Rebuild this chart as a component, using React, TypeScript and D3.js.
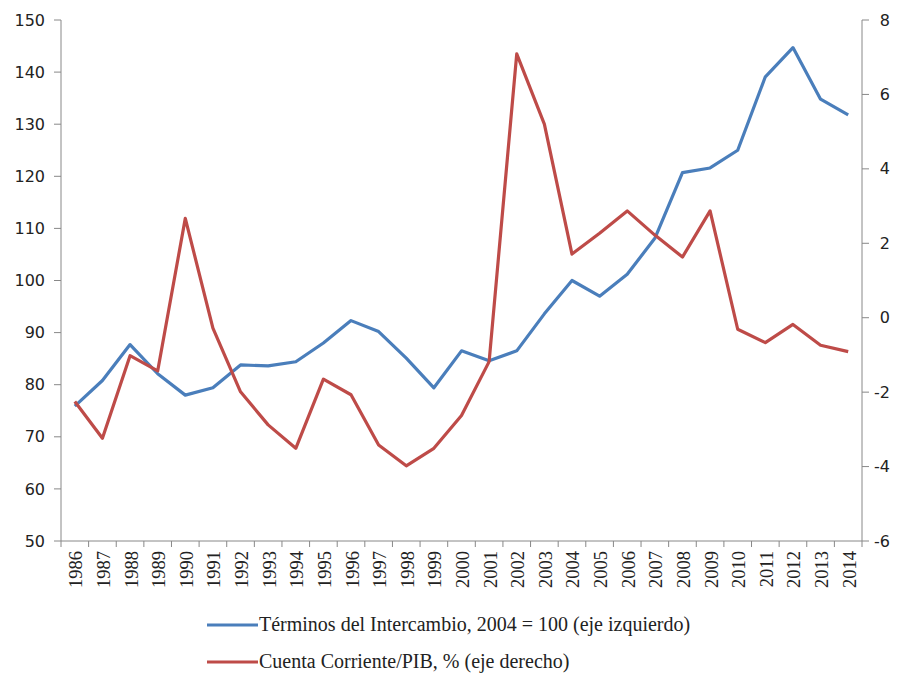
import * as d3 from "d3";

const years = [
  "1986", "1987", "1988", "1989", "1990", "1991", "1992", "1993", "1994", "1995",
  "1996", "1997", "1998", "1999", "2000", "2001", "2002", "2003", "2004", "2005",
  "2006", "2007", "2008", "2009", "2010", "2011", "2012", "2013", "2014",
];

// Términos del Intercambio, 2004 = 100 (left axis)
const terms = [
  75.9, 80.8, 87.7, 82.1, 78.0, 79.4, 83.8, 83.6, 84.4, 88.0,
  92.3, 90.2, 85.1, 79.4, 86.5, 84.6, 86.5, 93.6, 100.0, 97.0,
  101.2, 108.1, 120.7, 121.6, 125.0, 139.1, 144.7, 134.8, 131.8,
];

// Cuenta Corriente/PIB, % (right axis)
const account = [
  -2.25, -3.24, -1.02, -1.43, 2.67, -0.28, -1.99, -2.88, -3.51, -1.65,
  -2.07, -3.42, -3.98, -3.51, -2.63, -1.18, 7.09, 5.2, 1.71, 2.27,
  2.87, 2.22, 1.63, 2.87, -0.31, -0.67, -0.18, -0.74, -0.91,
];

const leftTicks = [50, 60, 70, 80, 90, 100, 110, 120, 130, 140, 150];
const rightTicks = [-6, -4, -2, 0, 2, 4, 6, 8];

const legendItems = [
  { label: "Términos del Intercambio, 2004 = 100 (eje izquierdo)", color: "#4a7ebb" },
  { label: "Cuenta Corriente/PIB, % (eje derecho)", color: "#be4b48" },
];

const width = 898;
const height = 673;
const plot = { left: 61, right: 862, top: 20, bottom: 541 };
const axisColor = "#888";
const numFont = "DejaVu Sans, Verdana, sans-serif";
const serif = "Liberation Serif, Times New Roman, serif";

export default function App() {
  const x = d3.scaleBand<string>().domain(years).range([plot.left, plot.right]);
  const cx = (yr: string) => (x(yr) ?? 0) + x.bandwidth() / 2;
  const yLeft = d3.scaleLinear().domain([50, 150]).range([plot.bottom, plot.top]);
  const yRight = d3.scaleLinear().domain([-6, 8]).range([plot.bottom, plot.top]);

  const termsLine = d3.line<number>()
    .x((_, i) => cx(years[i]))
    .y(d => yLeft(d));
  const accountLine = d3.line<number>()
    .x((_, i) => cx(years[i]))
    .y(d => yRight(d));

  // category boundaries for x tick marks
  const boundaries = years.map(yr => x(yr) ?? 0).concat([plot.right]);

  return (
    <svg
      width={width}
      height={height}
      style={{ position: "absolute", left: 0, top: 0, background: "#fff" }}
    >
      {/* left axis */}
      <line x1={plot.left} x2={plot.left} y1={plot.top} y2={plot.bottom} stroke={axisColor} />
      {leftTicks.map(t => (
        <g key={"l" + t}>
          <line x1={plot.left - 7} x2={plot.left} y1={yLeft(t)} y2={yLeft(t)} stroke={axisColor} />
          <text
            x={45}
            y={yLeft(t)}
            dy="0.35em"
            textAnchor="end"
            fontFamily={numFont}
            fontSize={16}
            fill="#222"
          >
            {t}
          </text>
        </g>
      ))}

      {/* right axis */}
      <line x1={plot.right} x2={plot.right} y1={plot.top} y2={plot.bottom} stroke={axisColor} />
      {rightTicks.map(t => (
        <g key={"r" + t}>
          <line x1={plot.right} x2={plot.right + 7} y1={yRight(t)} y2={yRight(t)} stroke={axisColor} />
          <text
            x={890}
            y={yRight(t)}
            dy="0.35em"
            textAnchor="end"
            fontFamily={numFont}
            fontSize={16}
            fill="#222"
          >
            {t}
          </text>
        </g>
      ))}

      {/* bottom axis */}
      <line x1={plot.left} x2={plot.right} y1={plot.bottom} y2={plot.bottom} stroke={axisColor} />
      {boundaries.map((b, i) => (
        <line key={"b" + i} x1={b} x2={b} y1={plot.bottom} y2={plot.bottom + 6} stroke={axisColor} />
      ))}
      {years.map(yr => (
        <text
          key={"y" + yr}
          transform={`translate(${cx(yr) + 1},${plot.bottom + 10}) rotate(-90)`}
          dy="0.35em"
          textAnchor="end"
          fontFamily={serif}
          fontSize={18.5}
          fill="#222"
        >
          {yr}
        </text>
      ))}

      {/* series */}
      <path d={termsLine(terms) ?? ""} fill="none" stroke={legendItems[0].color} strokeWidth={3.2} strokeLinejoin="round" />
      <path d={accountLine(account) ?? ""} fill="none" stroke={legendItems[1].color} strokeWidth={3.2} strokeLinejoin="round" />

      {/* legend */}
      {legendItems.map((item, i) => {
        const ly = 625 + i * 37;
        return (
          <g key={"lg" + i}>
            <line x1={207} x2={258} y1={ly} y2={ly} stroke={item.color} strokeWidth={3.2} />
            <text
              x={259}
              y={ly}
              dy="0.32em"
              fontFamily={serif}
              fontSize={20}
              fill="#222"
            >
              {item.label}
            </text>
          </g>
        );
      })}
    </svg>
  );
}
